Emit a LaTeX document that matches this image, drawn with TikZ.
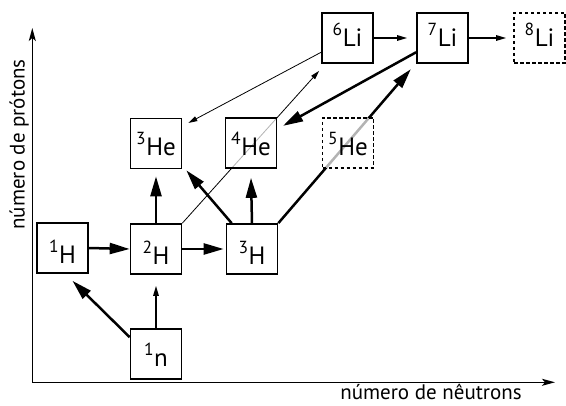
\documentclass[tikz,border=0pt]{standalone}
\usepackage{fontspec}
\setmainfont{PT Sans}
\usetikzlibrary{arrows.meta}
\pgfdeclarelayer{bg}
\pgfsetlayers{bg,main}
\newcommand\isosup[1]{\raisebox{11pt}{\fontsize{17.5}{17.5}\selectfont #1}\kern0.6pt}
\begin{document}
\begin{tikzpicture}[x=1pt,y=-1pt,
  iso/.style={draw, line width=1.7pt, minimum width=51pt, minimum height=50pt,
    inner sep=0pt, fill=white, fill opacity=0.7, draw opacity=1, text opacity=1,
    font=\fontsize{25}{25}\selectfont, text depth=0pt},
  hyp/.style={iso, dash pattern=on 3.5pt off 2.5pt},
  bH/.style={text height=31pt},
  bHe/.style={text height=25pt},
  bLi/.style={text height=18pt},
  bn/.style={text height=25.4pt},
  thickarr/.style={line width=2.5pt, -{Triangle[length=20pt,width=11pt]}},
  medarr/.style={line width=1.4pt, -{Triangle[length=10pt,width=5.5pt]}},
  thinarr/.style={line width=0.8pt, -{Triangle[length=9pt,width=5pt]}},
  axis/.style={line width=1.3pt, -{Stealth[length=13pt,width=7pt,inset=3pt]}},
  axlabel/.style={font=\fontsize{21}{21}\selectfont, inner sep=0pt, text depth=0pt}
]
\useasboundingbox (0,0) rectangle (566,406);

% axes
\coordinate (O) at (32.3,382.3);
\coordinate (xe) at (555,382.3);
\coordinate (ye) at (32.3,28);
\draw[axis] (O) -- (xe);
\draw[axis] (O) -- (ye);
\node[axlabel, anchor=base] (xlab) at (431,400) {número de nêutrons};
\node[axlabel, anchor=base, rotate=90] (ylab) at (24.5,144.5) {número de prótons};

% isotopes
\node[iso,bH]  (H1)  at (62.5,248) {\isosup{1}H};
\node[iso,bH]  (H2)  at (156,249)  {\isosup{2}H};
\node[iso,bH]  (H3)  at (252,249)  {\isosup{3}H};
\node[iso,bn]  (n1)  at (156,354)  {\isosup{1}n};
\node[iso,bHe] (He3) at (156,143.5) {\isosup{3}He};
\node[iso,bHe] (He4) at (251,143)  {\isosup{4}He};
\node[hyp,bHe] (He5) at (348,143)  {\isosup{5}He};
\node[iso,bLi] (Li6) at (347.5,38) {\isosup{6}Li};
\node[iso,bLi] (Li7) at (442.5,38) {\isosup{7}Li};
\node[hyp,bLi] (Li8) at (539.5,38) {\isosup{8}Li};

\begin{pgfonlayer}{bg}
\draw[thickarr] (H1.east) -- (H2.west);
\draw[thickarr] (H2.east) -- ([xshift=-2pt]H3.west);
\draw[thickarr] ([yshift=-9pt]n1.north west) -- ([xshift=10pt,yshift=-7pt]H1.south);
\draw[medarr] (n1.north) -- ([yshift=-11pt]H2.south);
\draw[thickarr] (H2.north) -- ([yshift=-7pt]He3.south);
\draw[thickarr] ([xshift=6pt]H3.north west) -- ([xshift=4pt,yshift=-1pt]He3.south east);
\draw[thickarr] (H3.north) -- ([yshift=-9pt]He4.south);
\draw[thinarr] (H2.north east) -- ([xshift=-2pt,yshift=-7pt]Li6.south west);
\draw[thickarr] (H3.north east) -- ([xshift=-5.3pt,yshift=-5.3pt]Li7.south west);
\draw[thinarr] ([yshift=11.6pt]Li6.south west) -- ([xshift=6pt,yshift=-5.3pt]He3.north east);
\draw[thickarr] ([yshift=11.6pt]Li7.south west) -- ([xshift=5.7pt,yshift=-8.7pt]He4.north east);
\draw[medarr] (Li6.east) -- ([xshift=-9pt]Li7.west);
\draw[medarr] (Li7.east) -- ([xshift=-7pt]Li8.west);
\end{pgfonlayer}
\end{tikzpicture}
\end{document}
